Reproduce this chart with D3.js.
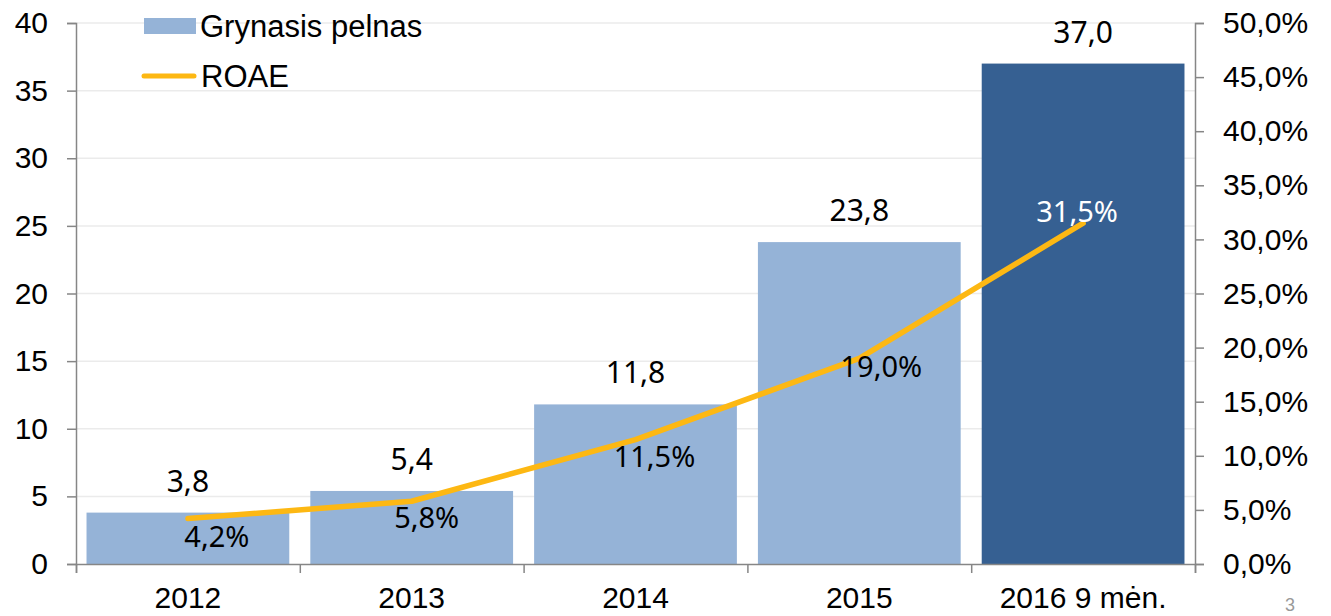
<!DOCTYPE html>
<html>
<head>
<meta charset="utf-8">
<script src="https://cdn.jsdelivr.net/npm/d3@7"></script>
<style>
  body { margin: 0; background: #fff; }
  svg { display: block; }
  .tick text { font-family: "Liberation Sans", Arial, sans-serif; font-size: 30px; fill: #000; }
</style>
</head>
<body>
<div id="chart"></div>
<script>
const categories = ['2012', '2013', '2014', '2015', '2016 9 mėn.']
const profit = [3.8, 5.4, 11.8, 23.8, 37.0]
const roae = [4.2, 5.8, 11.5, 19.0, 31.5]
const profitTicks = [0, 5, 10, 15, 20, 25, 30, 35, 40]
const roaeTicks = [0, 5, 10, 15, 20, 25, 30, 35, 40, 45, 50]

const width = 1331
const height = 616
const margin = { top: 23, right: 136, bottom: 52, left: 76 }
const plotW = width - margin.left - margin.right
const plotH = height - margin.top - margin.bottom

const fmt = (v, d) => v.toFixed(d).replace('.', ',')

const svg = d3.select('#chart')
  .append('svg')
    .attr('width', width)
    .attr('height', height)
const g = svg.append('g')
  .attr('transform', `translate(${margin.left},${margin.top})`)

const x = d3.scaleBand()
  .domain(categories)
  .range([0, plotW])
  .paddingInner(0.094)
  .paddingOuter(0.047)
const xEdge = d3.scaleLinear().domain([0, categories.length]).range([0, plotW])
const y = d3.scaleLinear().domain([0, 40]).range([plotH, 0])
const y2 = d3.scaleLinear().domain([0, 50]).range([plotH, 0])

// gridlines
g.append('g')
  .selectAll('line')
  .data(profitTicks.slice(1))
  .join('line')
    .attr('x1', 0)
    .attr('x2', plotW)
    .attr('y1', d => y(d))
    .attr('y2', d => y(d))
    .attr('stroke', '#ebebeb')
    .attr('stroke-width', 1.5)

// bars
g.append('g')
  .selectAll('rect')
  .data(profit)
  .join('rect')
    .attr('x', (d, i) => x(categories[i]))
    .attr('y', d => y(d))
    .attr('width', x.bandwidth())
    .attr('height', d => plotH - y(d))
    .attr('fill', (d, i) => i === categories.length - 1 ? '#366092' : '#95b3d7')

// left axis
const yAxis = g.append('g')
  .call(d3.axisLeft(y).tickValues(profitTicks).tickSize(9).tickPadding(19).tickFormat(d => d))
// right axis
const y2Axis = g.append('g')
  .attr('transform', `translate(${plotW},0)`)
  .call(d3.axisRight(y2).tickValues(roaeTicks).tickSize(9).tickPadding(19).tickFormat(d => fmt(d, 1) + '%'))
// bottom axis, ticks on band edges
const xAxis = g.append('g')
  .attr('transform', `translate(0,${plotH})`)
  .call(d3.axisBottom(xEdge).ticks(categories.length).tickSize(9).tickFormat(''))
g.append('g')
  .attr('transform', `translate(0,${plotH})`)
  .selectAll('text')
  .data(categories)
  .join('text')
    .attr('x', d => x(d) + x.bandwidth() / 2)
    .attr('y', 44)
    .attr('text-anchor', 'middle')
    .attr('font-family', '"Liberation Sans", Arial, sans-serif')
    .attr('font-size', 30)
    .text(d => d)

for (const ax of [yAxis, y2Axis, xAxis]) {
  ax.select('.domain').attr('stroke', '#868686').attr('stroke-width', 1.5)
  ax.selectAll('.tick line').attr('stroke', '#868686').attr('stroke-width', 1.5)
}

// ROAE line
const cx = i => x(categories[i]) + x.bandwidth() / 2
g.append('path')
  .datum(roae)
  .attr('fill', 'none')
  .attr('stroke', '#fdb813')
  .attr('stroke-width', 5.5)
  .attr('stroke-linecap', 'round')
  .attr('stroke-linejoin', 'round')
  .attr('d', d3.line()
    .x((d, i) => cx(i))
    .y(d => y2(d))
  )

// bar value labels
g.append('g')
  .selectAll('text')
  .data(profit)
  .join('text')
    .attr('x', (d, i) => cx(i))
    .attr('y', d => y(d) - 21)
    .attr('text-anchor', 'middle')
    .attr('font-family', '"Noto Sans", sans-serif')
    .attr('font-size', 30)
    .text(d => fmt(d, 1))

// ROAE labels
const roaeLabelShift = [[29, 28], [15, 27], [19, 27], [22, 19], [-6, -1]]
g.append('g')
  .selectAll('text')
  .data(roae)
  .join('text')
    .attr('x', (d, i) => cx(i) + roaeLabelShift[i][0])
    .attr('y', (d, i) => y2(d) + roaeLabelShift[i][1])
    .attr('text-anchor', 'middle')
    .attr('font-family', '"Noto Sans", sans-serif')
    .attr('font-size', 29)
    .attr('fill', (d, i) => i === roae.length - 1 ? '#fff' : '#000')
    .text(d => fmt(d, 1) + '%')

// legend
const legend = svg.append('g')
legend.append('rect')
  .attr('x', 144).attr('y', 18).attr('width', 52).attr('height', 16)
  .attr('fill', '#95b3d7')
legend.append('text')
  .attr('x', 200).attr('y', 37)
  .attr('font-family', '"Liberation Sans", Arial, sans-serif')
  .attr('font-size', 31)
  .text('Grynasis pelnas')
legend.append('line')
  .attr('x1', 144).attr('x2', 194).attr('y1', 76).attr('y2', 76)
  .attr('stroke', '#fdb813').attr('stroke-width', 5).attr('stroke-linecap', 'round')
legend.append('text')
  .attr('x', 201).attr('y', 87)
  .attr('font-family', '"Liberation Sans", Arial, sans-serif')
  .attr('font-size', 31)
  .text('ROAE')

// page number
svg.append('text')
  .attr('x', 1290).attr('y', 611)
  .attr('text-anchor', 'middle')
  .attr('font-family', '"Liberation Sans", Arial, sans-serif')
  .attr('font-size', 18)
  .attr('fill', '#999')
  .text('3')
</script>
</body>
</html>
